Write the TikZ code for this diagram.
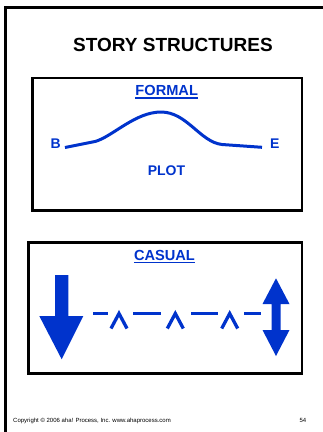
\documentclass[tikz,border=0pt]{standalone}
\usepackage{fontspec}
\setmainfont{Liberation Sans}
\definecolor{storyblue}{RGB}{0,51,204}
\tikzset{
  frame/.style={line width=2.4pt},
  lbl/.style={text=storyblue,inner sep=0pt,font=\bfseries\fontsize{14}{16}\selectfont},
  heading/.style={lbl,font=\bfseries\fontsize{14.6}{16}\selectfont},
  uline/.style={storyblue,line width=1.4pt},
  plotline/.style={storyblue,line width=3pt},
  chain/.style={storyblue,line width=3.6pt},
  caret/.style={storyblue,line width=3.3pt},
  small/.style={inner sep=0pt,font=\fontsize{6}{7}\selectfont},
}

\begin{document}
\begin{tikzpicture}[x=1pt,y=-1pt]
  \useasboundingbox (0,0) rectangle (323,432);
  \draw[line width=2.7pt] (5.5,500) -- (5.5,7.5) -- (400,7.5);
  \node[inner sep=0pt,font=\bfseries\fontsize{19}{22}\selectfont] (title) at (173,45) {STORY STRUCTURES};

  \draw[frame] (32.5,78) rectangle (302,210.5);
  \node[heading] (formal) at (166.7,90.5) {FORMAL};
  \draw[uline] ([yshift=-2.3pt]formal.south west) -- ([yshift=-2.3pt]formal.south east);
  \node[lbl] (begin) at (55.7,143.7) {B};
  \node[lbl] (end) at (274.7,143.7) {E};
  \node[lbl] (plot) at (166.5,171) {PLOT};
  \coordinate (pstart) at (65,147.5);
  \coordinate (pend) at (262,147.3);
  \draw[plotline] (pstart) -- (95,141.5) .. controls (112,137) and (135,112) .. (161,112)
    .. controls (187,112) and (200,142) .. (222,144.5) -- (pend);

  \draw[frame] (28.3,242.5) rectangle (302,373.5);
  \node[heading] (casual) at (164.5,255) {CASUAL};
  \draw[uline] ([yshift=-2.3pt]casual.south west) -- ([yshift=-2.3pt]casual.south east);
  \fill[storyblue] (55,275) -- (68.3,275) -- (68.3,316) -- (83.3,316) -- (61.7,359.3)
    -- (39.3,316) -- (55,316) -- cycle;
  \fill[storyblue] (276,278.3) -- (289.5,304) -- (280.5,304) -- (280.5,330) -- (289.5,330)
    -- (276,356) -- (262.5,330) -- (271.5,330) -- (271.5,304) -- (262.5,304) -- cycle;
  \foreach \a/\b in {93.3/108.3,133.3/161,191/218.3,244.3/261}
    \draw[chain] (\a,313.3) -- (\b,313.3);
  \foreach \x in {119,175.3,229.7}
    \draw[caret] (\x-8,328.5) -- (\x,313.5) -- (\x+8,328.5);

  \node[small,anchor=base west] (copy) at (13,422.5) {Copyright \textcopyright{} 2006 aha! Process, Inc. www.ahaprocess.com};
  \node[small,anchor=base] (page) at (303,422.5) {54};
\end{tikzpicture}
\end{document}
